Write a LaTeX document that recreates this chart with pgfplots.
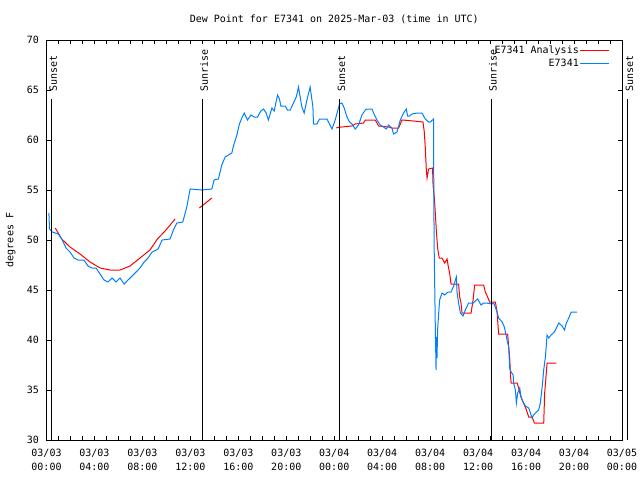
\documentclass[border=0pt]{standalone}
\usepackage{fontspec}
\setmainfont{DejaVu Sans Mono}
\usepackage{pgfplots}
\pgfplotsset{compat=1.18}
\definecolor{obsblue}{RGB}{0,128,255}
\definecolor{anared}{RGB}{255,0,0}
\begin{document}
\begin{tikzpicture}
\begin{axis}[
  scale only axis, width=575.5pt, height=400pt,
  xmin=0, xmax=48, ymin=30, ymax=70,
  xtick={0,4,...,48},
  xticklabels={03/03\\00:00,03/03\\04:00,03/03\\08:00,03/03\\12:00,03/03\\16:00,03/03\\20:00,03/04\\00:00,03/04\\04:00,03/04\\08:00,03/04\\12:00,03/04\\16:00,03/04\\20:00,03/05\\00:00},
  minor x tick num=3,
  ytick={30,35,...,70},
  tick align=inside,
  major tick length=4pt, minor tick length=4pt,
  tick style={black, line width=0.8pt},
  axis line style={line width=0.8pt},
  xticklabel style={align=center, yshift=-6pt, font={\fontsize{10}{14}\selectfont}},
  yticklabel style={xshift=-4pt},
  /pgf/number format/assume math mode=true,
  clip=false,
  unbounded coords=jump,
  legend plot pos=right,
  legend cell align=right,
  legend image code/.code={\draw[#1] (0pt,0pt) -- (29pt,0pt);},
  legend style={draw=none, fill=none, at={(1,1)}, anchor=north east, xshift=-12pt, yshift=-5pt, row sep=2pt, inner sep=0pt, nodes={inner sep=1pt}},
]
% Analysis
\addplot[anared, line width=1pt] coordinates {
(0.73,51.2) (1.27,50.1) (1.96,49.3) (2.80,48.6) (3.63,47.8) (4.47,47.2) (5.30,47.0) (6.14,47.0) (6.97,47.4) (7.80,48.2) (8.63,49.0) (9.25,50.1) (9.89,50.9) (10.73,52.1)
(11.5,nan)
(12.75,53.2) (13.79,54.2)
(18.0,nan)
(24.17,61.2) (24.44,61.3) (24.64,61.3) (25.48,61.4) (25.75,61.6) (26.44,61.7) (26.59,62.0) (27.42,62.0) (27.70,61.4) (28.53,61.3) (28.81,61.2) (29.37,61.2) (29.65,62.0) (30.62,61.9) (31.40,61.8) (31.51,60.8) (31.59,59.3) (31.68,57.0) (31.74,56.2) (31.87,57.1) (32.20,57.2) (32.24,55.5) (32.35,54.2) (32.43,52.7) (32.51,51.0) (32.62,49.2) (32.76,48.2) (32.99,48.2) (33.21,47.7) (33.41,48.1) (33.49,47.5) (33.62,46.7) (33.74,45.6) (34.37,45.6) (34.46,44.3) (34.57,43.7) (34.66,42.7) (35.41,42.7) (35.58,44.0) (35.71,45.5) (36.46,45.5) (36.60,44.8) (36.79,44.3) (36.96,43.8) (37.44,43.8) (37.58,42.8) (37.71,40.6) (38.46,40.6) (38.55,39.3) (38.63,38.3) (38.69,36.7) (38.75,35.7) (39.25,35.7) (39.38,35.2) (39.52,34.5) (39.67,34.0) (39.86,33.5) (40.03,33.0) (40.22,32.3) (40.50,32.3) (40.69,31.7) (41.47,31.7) (41.55,34.7) (41.75,37.7) (42.53,37.7)
};
\addlegendentry{E7341 Analysis}
% Observations
\addplot[obsblue, line width=1pt] coordinates {
(0.20,52.7) (0.25,51.1) (0.48,50.8) (0.98,50.6) (1.27,50.1) (1.63,49.2) (1.96,48.8) (2.30,48.2) (2.63,48.0) (3.13,48.0) (3.46,47.4) (3.80,47.2) (4.13,47.2) (4.47,46.6) (4.80,46.0) (5.13,45.8) (5.47,46.2) (5.80,45.8) (6.13,46.2) (6.47,45.6) (6.80,46.0) (7.14,46.4) (7.47,46.8) (7.80,47.2) (8.14,47.8) (8.47,48.2) (8.81,48.8) (9.31,49.1) (9.64,50.0) (10.31,50.1) (10.58,51.0) (10.87,51.7) (11.37,51.8) (11.70,53.3) (11.98,55.1) (12.95,55.0) (13.79,55.1) (13.98,56.0) (14.34,56.1) (14.62,57.5) (14.90,58.3) (15.46,58.7) (15.59,59.4) (15.88,60.5) (16.09,61.6) (16.29,62.2) (16.49,62.7) (16.76,62.0) (17.05,62.5) (17.32,62.3) (17.60,62.3) (17.88,62.9) (18.10,63.1) (18.32,62.7) (18.51,62.0) (18.80,63.2) (18.99,62.9) (19.27,64.5) (19.43,64.1) (19.55,63.4) (19.91,63.4) (20.10,63.0) (20.33,63.0) (20.60,63.7) (20.83,64.3) (21.02,65.3) (21.10,64.7) (21.30,63.3) (21.49,62.7) (21.72,64.0) (21.99,65.3) (22.22,63.3) (22.27,61.6) (22.55,61.6) (22.77,62.1) (23.39,62.1) (23.52,61.8) (23.81,61.1) (24.08,62.0) (24.44,63.6) (24.64,63.7) (24.83,63.2) (25.06,62.3) (25.28,61.8) (25.48,61.6) (25.75,61.1) (26.03,61.5) (26.31,62.5) (26.59,63.0) (26.73,63.1) (27.15,63.1) (27.28,62.7) (27.56,62.0) (27.84,61.5) (28.11,61.3) (28.34,61.1) (28.53,61.5) (28.81,61.2) (28.95,60.6) (29.23,60.8) (29.51,62.0) (29.78,62.7) (30.01,63.1) (30.12,62.4) (30.28,62.4) (30.48,62.6) (30.90,62.7) (31.32,62.7) (31.59,62.1) (31.87,61.8) (32.01,61.8) (32.28,62.1) (32.29,58.0) (32.33,49.5) (32.43,41.2) (32.49,37.0) (32.51,40.3) (32.57,38.2) (32.62,41.0) (32.71,42.7) (32.79,44.0) (32.99,44.7) (33.21,44.5) (33.49,44.8) (33.74,44.8) (33.96,45.4) (34.18,46.3) (34.24,44.8) (34.37,43.7) (34.52,42.7) (34.74,42.4) (34.93,43.0) (35.21,43.7) (35.58,43.7) (35.96,44.1) (36.24,43.5) (36.46,43.7) (36.69,43.7) (37.16,43.6) (37.30,43.7) (37.58,42.8) (37.71,42.2) (38.00,41.8) (38.19,41.3) (38.41,40.0) (38.55,39.3) (38.63,37.2) (38.75,36.8) (38.92,36.5) (38.96,35.7) (39.11,35.0) (39.19,33.7) (39.30,34.7) (39.47,35.2) (39.58,34.3) (39.75,33.8) (39.94,33.4) (40.22,33.2) (40.36,32.7) (40.50,32.2) (40.63,32.5) (40.86,32.8) (41.05,33.0) (41.19,33.7) (41.34,35.3) (41.47,37.0) (41.61,38.3) (41.75,40.5) (41.89,40.2) (42.09,40.5) (42.36,40.8) (42.53,41.2) (42.72,41.7) (43.01,41.4) (43.20,41.0) (43.36,41.7) (43.56,42.2) (43.76,42.8) (43.92,42.8) (44.26,42.8)
};
\addlegendentry{E7341}
% sunrise / sunset lines
\addplot[black, line width=0.8pt, forget plot] coordinates {(0.40,64.1) (0.40,30)};
\addplot[black, line width=0.8pt, forget plot] coordinates {(13.00,64.1) (13.00,30)};
\addplot[black, line width=0.8pt, forget plot] coordinates {(24.44,64.1) (24.44,30)};
\addplot[black, line width=0.8pt, forget plot] coordinates {(37.08,64.1) (37.08,30)};
\addplot[black, line width=0.8pt, forget plot] coordinates {(48.46,64.1) (48.46,30)};
\node[rotate=90, anchor=base west, inner sep=0pt] at (axis cs:0.86,64.8) {Sunset};
\node[rotate=90, anchor=base west, inner sep=0pt] at (axis cs:13.46,64.8) {Sunrise};
\node[rotate=90, anchor=base west, inner sep=0pt] at (axis cs:24.90,64.8) {Sunset};
\node[rotate=90, anchor=base west, inner sep=0pt] at (axis cs:37.54,64.8) {Sunrise};
\node[rotate=90, anchor=base west, inner sep=0pt] at (axis cs:48.92,64.8) {Sunset};
\node[anchor=base, inner sep=0pt] at ([yshift=17pt]rel axis cs:0.5,1) {Dew Point for E7341 on 2025-Mar-03 (time in UTC)};
\node[rotate=90, anchor=base, inner sep=0pt] at ([xshift=-33pt]rel axis cs:0,0.5) {degrees F};
\coordinate (bl) at (rel axis cs:0,0);
\coordinate (tr) at (rel axis cs:1,1);
\end{axis}
\pgfresetboundingbox
\path[use as bounding box] ([xshift=-46.5pt,yshift=-40pt]bl) rectangle ([xshift=18pt,yshift=40pt]tr);
\end{tikzpicture}
\end{document}
